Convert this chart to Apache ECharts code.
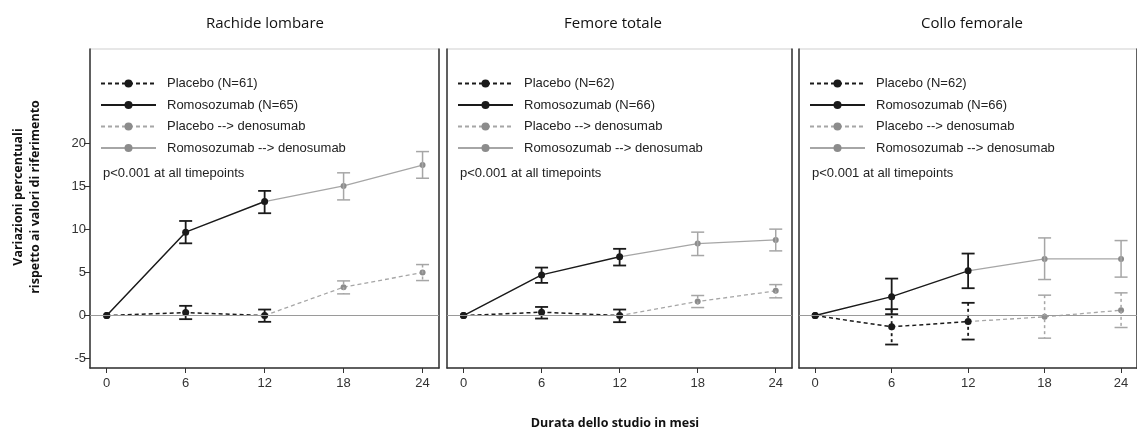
<!DOCTYPE html>
<html>
<head>
<meta charset="utf-8">
<script src="https://cdn.jsdelivr.net/npm/echarts@6/dist/echarts.min.js"></script>
<style>
html,body{margin:0;padding:0;background:#fff;}
#chart{width:1137px;height:430px;}
</style>
</head>
<body>
<div id="chart"></div>
<script>
// ---- data ----
const months = [0, 6, 12, 18, 24];
const xTicks = [0, 6, 12, 18, 24];
const yTicks = [-5, 0, 5, 10, 15, 20];
const panelTitles = ['Rachide lombare', 'Femore totale', 'Collo femorale'];
const placeboNames = ['Placebo (N=61)', 'Placebo (N=62)', 'Placebo (N=62)'];
const romoNames = ['Romosozumab (N=65)', 'Romosozumab (N=66)', 'Romosozumab (N=66)'];
const plDenoName = 'Placebo --> denosumab';
const romoDenoName = 'Romosozumab --> denosumab';
const pText = 'p<0.001 at all timepoints';
const xTitle = 'Durata dello studio in mesi';
const yTitle = 'Variazioni percentuali\nrispetto ai valori di riferimento';

// months 0, 6, 12 (treatment phase)
const placeboMean = [[0, 0.35, 0], [0, 0.39, 0], [0, -1.31, -0.70]];
const placeboLo   = [[0, -0.42, -0.73], [0, -0.35, -0.77], [0, -3.37, -2.79]];
const placeboHi   = [[0, 1.13, 0.70], [0, 1.00, 0.70], [0, 0.74, 1.48]];
const romoMean = [[0, 9.70, 13.26], [0, 4.73, 6.83], [0, 2.20, 5.20]];
const romoLo   = [[0, 8.40, 11.90], [0, 3.80, 5.82], [0, 0.16, 3.18]];
const romoHi   = [[0, 11.00, 14.50], [0, 5.58, 7.76], [0, 4.30, 7.21]];
// months 18, 24 (denosumab phase)
const plDenoMean = [[3.30, 5.00], [1.63, 2.87], [-0.15, 0.62]];
const plDenoLo   = [[2.52, 4.07], [0.93, 2.06], [-2.63, -1.39]];
const plDenoHi   = [[4.03, 5.93], [2.33, 3.60], [2.37, 2.64]];
const romoDenoMean = [[15.08, 17.50], [8.37, 8.80], [6.59, 6.59]];
const romoDenoLo   = [[13.45, 15.97], [6.98, 7.52], [4.19, 4.47]];
const romoDenoHi   = [[16.60, 19.07], [9.70, 10.05], [9.03, 8.72]];

// ---- layout ----
const BLACK = '#1a1a1a';
const GRAY = '#a6a6a6';
const GRAYM = '#8c8c8c';
const gridLefts = [90, 447, 799];
const gridWidths = [349, 345, 345];
const gridTop = 49, gridH = 319;
const XMIN = -1.27, XMAX = 25.25, YMIN = -6.1, YMAX = 31;
const FONT = 'Liberation Sans';

const chart = echarts.init(document.getElementById('chart'));

function errBars(xs, lo, hi, color, width, dashed, xi) {
  const data = xs.map((x, i) => [x, lo[i], hi[i]]);
  return {
    type: 'custom', xAxisIndex: xi, yAxisIndex: xi, silent: true, z: 3,
    data: data,
    encode: {x: 0, y: [1, 2]},
    renderItem: function (params, api) {
      const x = api.value(0);
      const a = api.coord([x, api.value(2)]);
      const b = api.coord([x, api.value(1)]);
      const cw = 6.5;
      const st = {stroke: color, lineWidth: width};
      return {
        type: 'group', children: [
          {type: 'line', shape: {x1: a[0], y1: a[1], x2: b[0], y2: b[1]},
           style: Object.assign({}, st, dashed ? {lineDash: [3, 3]} : {})},
          {type: 'line', shape: {x1: a[0] - cw, y1: a[1], x2: a[0] + cw, y2: a[1]}, style: st},
          {type: 'line', shape: {x1: b[0] - cw, y1: b[1], x2: b[0] + cw, y2: b[1]}, style: st}
        ]
      };
    }
  };
}

const grids = [], xAxes = [], yAxes = [], series = [], legends = [], titles = [], graphics = [];
const titleX = [260, 608, 967];

for (let p = 0; p < 3; p++) {
  grids.push({left: gridLefts[p], top: gridTop, width: gridWidths[p], height: gridH,
    show: true, borderColor: '#cfcfcf', borderWidth: 1, backgroundColor: 'transparent'});
}

for (let p = 0; p < 3; p++) {
  xAxes.push({
    type: 'value', gridIndex: p, min: XMIN, max: XMAX, position: 'bottom',
    splitLine: {show: false},
    axisLine: {show: true, onZero: false, lineStyle: {color: '#333', width: 1.5}},
    axisTick: {show: true, length: 5, customValues: xTicks, lineStyle: {color: '#333'}},
    axisLabel: {show: true, customValues: xTicks, margin: 9, color: '#333', fontFamily: FONT, fontSize: 13}
  });
  yAxes.push({
    type: 'value', gridIndex: p, min: YMIN, max: YMAX, position: 'left',
    splitLine: {show: false},
    axisLine: {show: true, onZero: false, lineStyle: {color: '#333', width: 1.5}},
    axisTick: {show: p === 0, length: 6, customValues: yTicks, lineStyle: {color: '#333'}},
    axisLabel: {show: p === 0, customValues: yTicks, margin: 4, color: '#333', fontFamily: FONT, fontSize: 13}
  });
}
// right borders (dark)
for (let p = 0; p < 3; p++) {
  yAxes.push({
    type: 'value', gridIndex: p, min: YMIN, max: YMAX, position: 'right',
    splitLine: {show: false},
    axisLine: {show: true, onZero: false, lineStyle: {color: '#333', width: 1.5}},
    axisTick: {show: false}, axisLabel: {show: false}
  });
}

for (let p = 0; p < 3; p++) {
  const m012 = months.slice(0, 3);
  const m1824 = months.slice(3);
  // zero line
  series.push({
    type: 'line', xAxisIndex: p, yAxisIndex: p, data: [], silent: true,
    markLine: {silent: true, symbol: 'none', label: {show: false},
      lineStyle: {color: '#9a9a9a', width: 1, type: 'solid'},
      data: [{yAxis: 0}]}
  });
  // denosumab phase lines (under)
  series.push({
    name: plDenoName, type: 'line', xAxisIndex: p, yAxisIndex: p, z: 2,
    data: [{value: [12, placeboMean[p][2]], symbol: 'none'}].concat(m1824.map((m, i) => [m, plDenoMean[p][i]])),
    lineStyle: {color: GRAY, width: 1.3, type: [4, 3]},
    itemStyle: {color: GRAYM}, symbol: 'circle', symbolSize: 6
  });
  series.push({
    name: romoDenoName, type: 'line', xAxisIndex: p, yAxisIndex: p, z: 2,
    data: [{value: [12, romoMean[p][2]], symbol: 'none'}].concat(m1824.map((m, i) => [m, romoDenoMean[p][i]])),
    lineStyle: {color: GRAY, width: 1.3, type: 'solid'},
    itemStyle: {color: GRAYM}, symbol: 'circle', symbolSize: 6
  });
  series.push(errBars(m1824, plDenoLo[p], plDenoHi[p], GRAY, 1.5, true, p));
  series.push(errBars(m1824, romoDenoLo[p], romoDenoHi[p], GRAY, 1.5, false, p));
  // treatment phase
  series.push({
    name: placeboNames[p], type: 'line', xAxisIndex: p, yAxisIndex: p, z: 4,
    data: m012.map((m, i) => [m, placeboMean[p][i]]),
    lineStyle: {color: BLACK, width: 1.5, type: [4, 3]},
    itemStyle: {color: BLACK}, symbol: 'circle', symbolSize: 7
  });
  series.push({
    name: romoNames[p], type: 'line', xAxisIndex: p, yAxisIndex: p, z: 4,
    data: m012.map((m, i) => [m, romoMean[p][i]]),
    lineStyle: {color: BLACK, width: 1.5, type: 'solid'},
    itemStyle: {color: BLACK}, symbol: 'circle', symbolSize: 7
  });
  series.push(errBars(m012.slice(1), placeboLo[p].slice(1), placeboHi[p].slice(1), BLACK, 1.8, p === 2, p));
  series.push(errBars(m012.slice(1), romoLo[p].slice(1), romoHi[p].slice(1), BLACK, 1.8, false, p));

  legends.push({
    orient: 'vertical', left: gridLefts[p] + 10, top: 77, padding: 0,
    data: [placeboNames[p], romoNames[p], plDenoName, romoDenoName],
    itemWidth: 55, itemHeight: 10, itemGap: 8.5, selectedMode: false,
    textStyle: {fontFamily: FONT, fontSize: 13, color: '#222', padding: [0, 0, 0, 6]}
  });
  titles.push({
    text: panelTitles[p], left: titleX[p], top: 11, textAlign: 'center',
    textStyle: {fontFamily: 'Open Sans', fontSize: 15, fontWeight: 'normal', color: '#111'}
  });
  graphics.push({
    type: 'text', left: gridLefts[p] + 13, top: 167,
    style: {text: pText, fontFamily: FONT, fontSize: 13, fill: '#222'}
  });
}

titles.push({
  text: xTitle, left: 610, top: 412, textAlign: 'center',
  textStyle: {fontFamily: 'Open Sans', fontSize: 12.5, fontWeight: 'bold', color: '#111'}
});
graphics.push({
  type: 'text', x: 27, y: 197, rotation: Math.PI / 2,
  style: {text: yTitle, fontFamily: 'Open Sans', fontSize: 12.5, fontWeight: 'bold', fill: '#111',
    align: 'center', verticalAlign: 'middle', lineHeight: 17}
});

chart.setOption({
  animation: false,
  backgroundColor: '#fff',
  title: titles,
  grid: grids,
  xAxis: xAxes,
  yAxis: yAxes,
  legend: legends,
  series: series,
  graphic: graphics
});
</script>
</body>
</html>
